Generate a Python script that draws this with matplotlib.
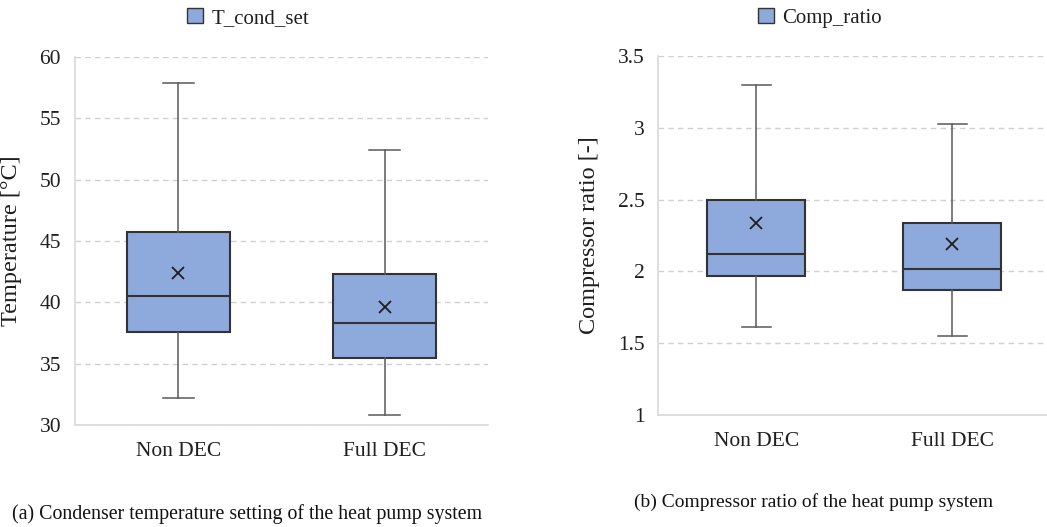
import matplotlib
matplotlib.use("Agg")
import matplotlib.pyplot as plt
from matplotlib.patches import Patch

plt.rcParams['font.family'] = ['Liberation Serif', 'DejaVu Serif']

# ---- data ----
cases = ["Non DEC", "Full DEC"]

# condenser temperature setting [degC]
t_low = [32.2, 30.8]
t_q1 = [37.6, 35.5]
t_med = [40.5, 38.3]
t_q3 = [45.7, 42.3]
t_high = [57.9, 52.4]
t_mean = [42.4, 39.6]

# compressor ratio [-]
c_low = [1.61, 1.55]
c_q1 = [1.97, 1.87]
c_med = [2.12, 2.02]
c_q3 = [2.50, 2.34]
c_high = [3.30, 3.03]
c_mean = [2.34, 2.19]

box_col = "#8EA9DB"
edge_col = "#333333"
whisk_col = "#595959"
grid_col = "#D0D0D0"
text_col = "#1F1F1F"


def make_stats(low, q1, med, q3, high, mean):
    stats = []
    for i in range(len(cases)):
        stats.append({"whislo": low[i], "q1": q1[i], "med": med[i], "q3": q3[i],
                      "whishi": high[i], "mean": mean[i], "fliers": [], "label": cases[i]})
    return stats


def draw_panel(ax, stats, ylim, yticks, ylabel, label_x):
    ax.bxp(stats, positions=[0, 1], widths=0.5, capwidths=0.15, patch_artist=True,
           showmeans=True, showfliers=False,
           boxprops=dict(facecolor=box_col, edgecolor=edge_col, linewidth=1.5),
           medianprops=dict(color=edge_col, linewidth=1.5),
           whiskerprops=dict(color=whisk_col, linewidth=1.1),
           capprops=dict(color=whisk_col, linewidth=1.1),
           meanprops=dict(marker="x", markeredgecolor=text_col, markersize=8, markeredgewidth=1.3))
    ax.set_xlim(-0.5, 1.5)
    ax.set_ylim(ylim)
    ax.set_yticks(yticks)
    ax.set_xticks([0, 1])
    ax.set_xticklabels(cases)
    ax.yaxis.grid(True, linestyle=(0, (4, 3)), color=grid_col, linewidth=1.0)
    ax.set_axisbelow(True)
    for s in ["top", "right"]:
        ax.spines[s].set_visible(False)
    for s in ["left", "bottom"]:
        ax.spines[s].set_color("#D9D9D9")
        ax.spines[s].set_linewidth(1.2)
    ax.tick_params(axis="both", length=0, labelsize=15.5, colors=text_col)
    ax.tick_params(axis="y", pad=10)
    ax.tick_params(axis="x", pad=12)
    ax.set_ylabel(ylabel, fontsize=17.5, color=text_col)
    ax.yaxis.set_label_coords(label_x, 0.5)


fig = plt.figure(figsize=(10.47, 5.27), dpi=100)
ax1 = fig.add_axes([0.0716, 0.1935, 0.3945, 0.6983])
ax2 = fig.add_axes([0.6288, 0.2125, 0.3744, 0.6812])

draw_panel(ax1, make_stats(t_low, t_q1, t_med, t_q3, t_high, t_mean),
           (30, 60), [30, 35, 40, 45, 50, 55, 60], "Temperature [°C]", -0.128)
draw_panel(ax2, make_stats(c_low, c_q1, c_med, c_q3, c_high, c_mean),
           (1, 3.5), [1, 1.5, 2, 2.5, 3, 3.5], "Compressor ratio [-]", -0.149)
ax2.set_yticklabels(["1", "1.5", "2", "2.5", "3", "3.5"])

# legends on top
for lab, xc in [("T_cond_set", 0.237), ("Comp_ratio", 0.783)]:
    h = Patch(facecolor=box_col, edgecolor=edge_col, linewidth=1.0)
    fig.legend([h], [lab], loc="center", bbox_to_anchor=(xc, 0.966), frameon=False,
               fontsize=15, handlelength=0.75, handleheight=0.75, handletextpad=0.4,
               labelcolor=text_col)

# captions
fig.text(0.0112, 1 - 514 / 527, "(a) Condenser temperature setting of the heat pump system",
         fontsize=14.3, color="#111111", ha="left", va="center")
fig.text(0.6055, 1 - 502 / 527, "(b) Compressor ratio of the heat pump system",
         fontsize=14, color="#111111", ha="left", va="center")

fig.savefig("out.png", dpi=100)
